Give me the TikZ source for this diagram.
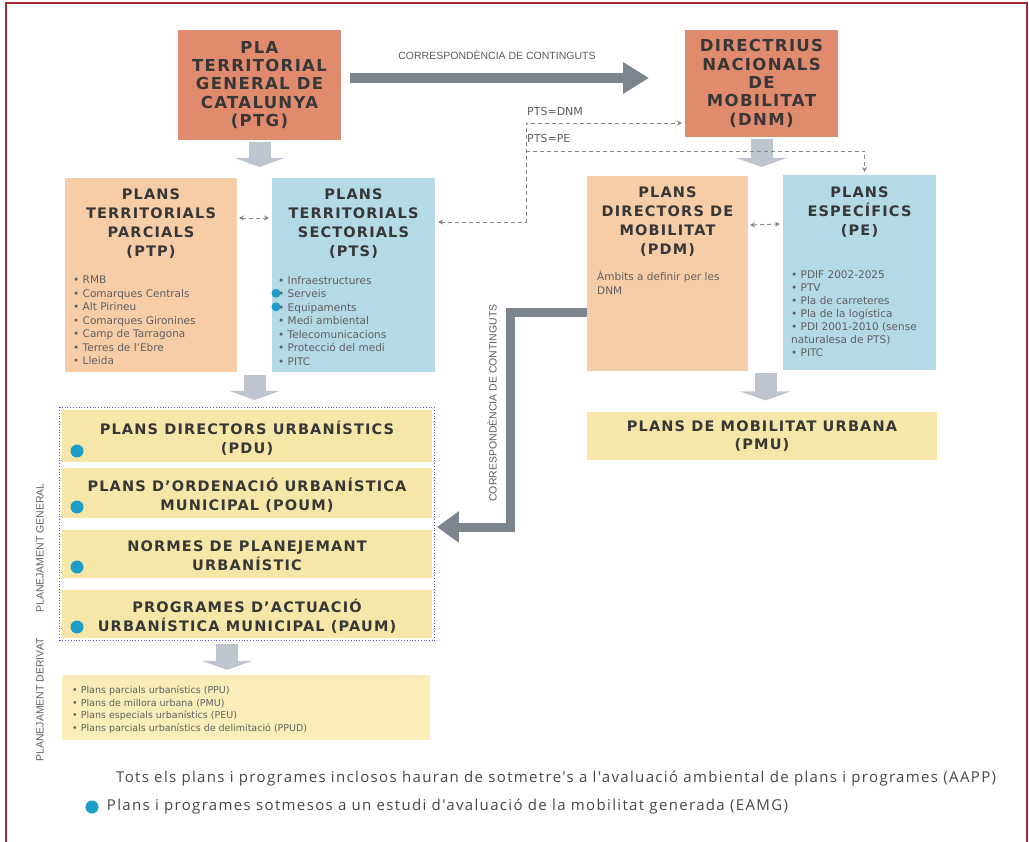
\documentclass[tikz,border=0pt]{standalone}
\usepackage{fontspec}
\setmainfont{DejaVu Sans}
\newfontfamily\boxfont[LetterSpace=8]{DejaVu Sans}
\newfontfamily\narrowfont{Liberation Sans}
\newfontfamily\notefont[LetterSpace=9]{Open Sans}
\usepackage{tikz}
\usetikzlibrary{arrows.meta,positioning,fit,calc}

\definecolor{salmon}{RGB}{224,138,110}
\definecolor{peach}{RGB}{247,205,168}
\definecolor{skyblue}{RGB}{180,217,231}
\definecolor{sand}{RGB}{246,231,168}
\definecolor{lightsand}{RGB}{249,238,186}
\definecolor{steel}{RGB}{124,132,141}
\definecolor{mist}{RGB}{190,197,207}
\definecolor{dashgray}{RGB}{135,135,135}
\definecolor{dotblue}{RGB}{28,158,200}
\definecolor{framered}{RGB}{165,40,50}
\definecolor{titlegray}{RGB}{55,55,55}
\definecolor{listgray}{RGB}{95,95,95}

\begin{document}
\begin{tikzpicture}[x=1pt, y=-1pt,
 plan/.style={anchor=north west, inner sep=0pt, outer sep=0pt},
 boxtitle/.style={inner sep=0pt, align=center, text=titlegray, font=\boxfont\bfseries\fontsize{14.5}{19}\selectfont},
 toptitle/.style={boxtitle, font=\boxfont\bfseries\fontsize{16.5}{18.3}\selectfont},
 items/.style={inner sep=0pt, align=left, anchor=north west, text=listgray, font=\fontsize{10.5}{13.5}\selectfont},
 smalltag/.style={inner sep=0pt, text=steel!70!black, font=\narrowfont\fontsize{10.5}{12}\selectfont},
 eqtag/.style={inner sep=0pt, anchor=west, text=listgray, font=\fontsize{11}{12}\selectfont},
 vlabel/.style={inner sep=0pt, rotate=90, text=listgray, font=\narrowfont\fontsize{10.5}{12}\selectfont},
 note/.style={inner sep=0pt, anchor=west, text=black!72, font=\notefont\fontsize{15}{18}\selectfont},
 bigarrow/.style={draw=steel, line width=10pt, -{Triangle[width=30pt,length=26pt]}},
 downarrow/.style={draw=mist, line width=22pt, -{Triangle[width=50pt,length=9pt]}},
 dashline/.style={draw=dashgray, line width=0.9pt, dash pattern=on 4pt off 3pt},
 bluedot/.style={circle, fill=dotblue, inner sep=0pt, minimum size=13pt}]

 \useasboundingbox (0,0) rectangle (1029,842);

 % Frame
 \draw[framered, line width=1.1pt] (6,842) -- (6,3) -- (1027,3) -- (1027,842);

 % Top level
 \node[plan, fill=salmon, minimum width=163pt, minimum height=110pt] (ptg) at (178,30) {};
 \node[toptitle] (ptgtitle) at (ptg) {PLA\\TERRITORIAL\\GENERAL DE\\CATALUNYA\\(PTG)};
 \node[plan, fill=salmon, minimum width=153pt, minimum height=107pt] (dnm) at (685,30) {};
 \node[toptitle] (dnmtitle) at (dnm) {DIRECTRIUS\\NACIONALS\\DE\\MOBILITAT\\(DNM)};

 \coordinate (corrtip) at (649,78);
 \draw[bigarrow] ([xshift=9pt]ptg.east |- corrtip) -- (corrtip);
 \node[smalltag] (corrtop) at (497,55) {CORRESPONDÈNCIA DE CONTINGUTS};

 \draw[downarrow] ([yshift=-2pt]ptg.south) -- ([yshift=-27pt]ptg.south);
 \draw[downarrow] ([yshift=-2pt]dnm.south) -- ([yshift=-30pt]dnm.south);

 % Territorial plans
 \node[plan, fill=peach, minimum width=172pt, minimum height=194pt] (ptp) at (65,178) {};
 \node[boxtitle, below=11pt of ptp.north] (ptptitle) {PLANS\\TERRITORIALS\\PARCIALS\\(PTP)};
 \node[items] (ptplist) at ([xshift=8pt,yshift=-98pt]ptp.north west) {\textbullet\ RMB\\\textbullet\ Comarques Centrals\\\textbullet\ Alt Pirineu\\\textbullet\ Comarques Gironines\\\textbullet\ Camp de Tarragona\\\textbullet\ Terres de l'Ebre\\\textbullet\ Lleida};

 \node[plan, fill=skyblue, minimum width=163pt, minimum height=194pt] (pts) at (272,178) {};
 \node[boxtitle, below=11pt of pts.north] (ptstitle) {PLANS\\TERRITORIALS\\SECTORIALS\\(PTS)};
 \node[items] (ptslist) at ([xshift=6pt,yshift=-98pt]pts.north west) {\textbullet\ Infraestructures\\\textbullet\ Serveis\\\textbullet\ Equipaments\\\textbullet\ Medi ambiental\\\textbullet\ Telecomunicacions\\\textbullet\ Protecció del medi\\\textbullet\ PITC};
 \node[bluedot, minimum size=9pt] (dserveis) at ([xshift=-2pt,yshift=-17.3pt]ptslist.north west) {};
 \node[bluedot, minimum size=9pt] (dequip) at ([xshift=-2pt,yshift=-30.8pt]ptslist.north west) {};

 \draw[dashline, {Stealth[length=5pt,width=5pt]}-{Stealth[length=5pt,width=5pt]}] ([xshift=2pt,yshift=57pt]ptp.east) -- ([xshift=-3pt,yshift=57pt]pts.west);

 % Mobility plans
 \node[plan, fill=peach, minimum width=161pt, minimum height=195pt] (pdm) at (587,176) {};
 \node[boxtitle, below=11pt of pdm.north] (pdmtitle) {PLANS\\DIRECTORS DE\\MOBILITAT\\(PDM)};
 \node[items] (pdmtext) at ([xshift=10pt,yshift=-95pt]pdm.north west) {Àmbits a definir per les\\DNM};

 \node[plan, fill=skyblue, minimum width=153pt, minimum height=195pt] (pe) at (783,175) {};
 \node[boxtitle, below=12pt of pe.north] (petitle) {PLANS\\ESPECÍFICS\\(PE)};
 \node[items, font=\fontsize{10.5}{13}\selectfont] (pelist) at ([xshift=8pt,yshift=-96pt]pe.north west) {\textbullet\ PDIF 2002-2025\\\textbullet\ PTV\\\textbullet\ Pla de carreteres\\\textbullet\ Pla de la logística\\\textbullet\ PDI 2001-2010 (sense\\naturalesa de PTS)\\\textbullet\ PITC};

 \draw[dashline, {Stealth[length=5pt,width=5pt]}-{Stealth[length=5pt,width=5pt]}] ([xshift=2pt,yshift=48.5pt]pdm.east) -- ([xshift=-3pt,yshift=48.5pt]pe.west);

 % PTS links
 \coordinate (dsplit) at (526,123);
 \coordinate (dsplitpe) at (526,151);
 \draw[dashline, {Stealth[length=5pt,width=5pt]}-{Stealth[length=5pt,width=5pt]}] ([xshift=3pt,yshift=53pt]pts.east) -| (dsplit) -- ([xshift=-3pt]dnm.west |- dsplit);
 \draw[dashline, -{Stealth[length=5pt,width=5pt]}] (dsplitpe) -| ([xshift=5pt,yshift=3pt]pe.north);
 \node[eqtag] (ptsdnm) at ([xshift=1pt,yshift=12pt]dsplit) {PTS=DNM};
 \node[eqtag] (ptspe) at ([xshift=1pt,yshift=-15pt]dsplit) {PTS=PE};

 \draw[downarrow] ($(ptp.south east)!0.5!(pts.south west)+(0,3)$) -- ++(0,25);
 \draw[downarrow] ($(pdm.south east)!0.5!(pe.south west)+(0,3)$) -- ++(0,27);

 % Urban mobility
 \node[plan, fill=sand, minimum width=350pt, minimum height=48pt] (pmu) at (587,412) {};
 \node[boxtitle, font=\boxfont\bfseries\fontsize{14.5}{17.5}\selectfont] (pmutitle) at (pmu) {PLANS DE MOBILITAT URBANA\\(PMU)};

 % General planning
 \foreach \nm/\ytop/\hgt/\lbl in {pdu/410/52/{PLANS DIRECTORS URBANÍSTICS\\(PDU)},
   poum/468/50/{PLANS D’ORDENACIÓ URBANÍSTICA\\MUNICIPAL (POUM)},
   npu/530/48/{NORMES DE PLANEJEMANT\\URBANÍSTIC},
   paum/590/48/{PROGRAMES D’ACTUACIÓ\\URBANÍSTICA MUNICIPAL (PAUM)}} {
  \node[plan, fill=sand, minimum width=370pt, minimum height=\hgt pt] (\nm) at (62,\ytop) {};
  \node[boxtitle] (\nm-t) at ([yshift=-2pt]\nm) {\lbl};
  \node[bluedot] (\nm-d) at ([xshift=15pt,yshift=11pt]\nm.south west) {};
 }
 \node[fit=(pdu)(paum), inner sep=2.5pt, draw=dashgray!70!blue, dotted, line width=0.8pt] (general) {};

 \coordinate (corrbend) at (510,527);
 \draw[bigarrow, line width=9pt, line join=miter, -{Triangle[width=30pt,length=22pt]}] ([yshift=-39.5pt]pdm.west) -| (corrbend) -- ([xshift=2pt]general.east |- corrbend);
 \node[smalltag, rotate=90] (corrside) at (492,403) {CORRESPONDÈNCIA DE CONTINGUTS};

 % Derived planning
 \draw[downarrow] ([xshift=-20pt,yshift=-3pt]general.south) -- ++(0,26);
 \node[plan, fill=lightsand, minimum width=368pt, minimum height=65pt] (derivat) at (62,675) {};
 \node[items, font=\fontsize{9.5}{12.7}\selectfont] (derivatlist) at ([xshift=10pt,yshift=-10.5pt]derivat.north west) {\textbullet\ Plans parcials urbanístics (PPU)\\\textbullet\ Plans de millora urbana (PMU)\\\textbullet\ Plans especials urbanístics (PEU)\\\textbullet\ Plans parcials urbanístics de delimitació (PPUD)};

 \node[vlabel] (lblgeneral) at (40,548) {PLANEJAMENT GENERAL};
 \node[vlabel] (lblderivat) at (40,700) {PLANEJAMENT DERIVAT};

 % Notes
 \node[note] (aapp) at (116,779) {Tots els plans i programes inclosos hauran de sotmetre's a l'avaluació ambiental de plans i programes (AAPP)};
 \node[bluedot] (eamgdot) at (92,807) {};
 \node[note, right=8pt of eamgdot] (eamg) {Plans i programes sotmesos a un estudi d'avaluació de la mobilitat generada (EAMG)};
\end{tikzpicture}
\end{document}
